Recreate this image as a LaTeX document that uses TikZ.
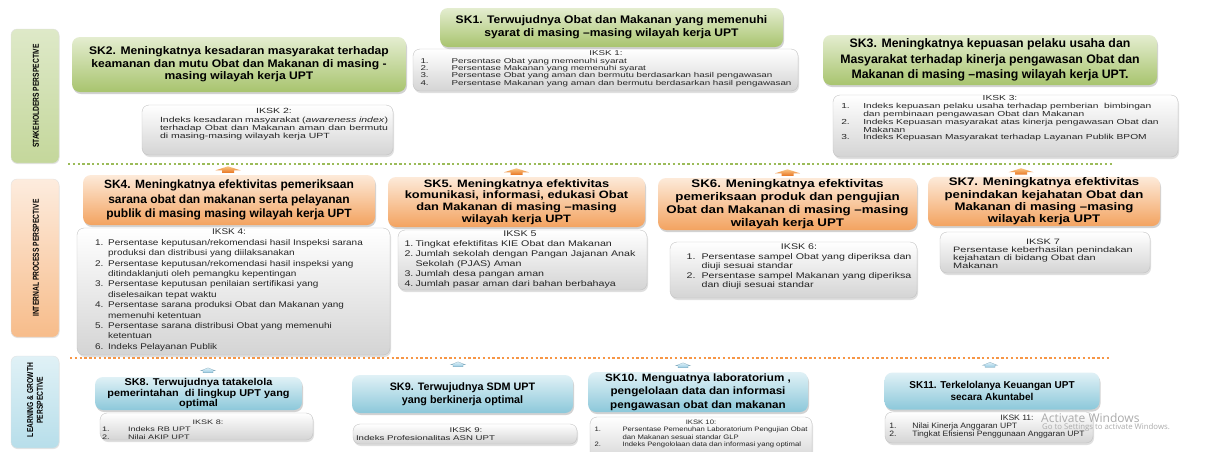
\documentclass[tikz,border=0pt]{standalone}
\usepackage{fontspec}
\setmainfont{Liberation Sans}
\newfontfamily\fxA{Liberation Sans}
\newfontfamily\fxB{Liberation Sans}[FakeStretch=1.1]
\newfontfamily\fxC{Liberation Sans}[FakeStretch=1.2]
\newfontfamily\fxD{Liberation Sans}[FakeStretch=1.3]
\newfontfamily\fxE{Liberation Sans}[FakeStretch=1.4]
\newfontfamily\fxN{Liberation Sans}[FakeStretch=0.78]
\newfontfamily\winf{Open Sans}
\usetikzlibrary{shadows,calc}
\definecolor{gT}{RGB}{228,237,208}
\definecolor{gB}{RGB}{168,196,110}
\definecolor{oT}{RGB}{253,234,217}
\definecolor{oB}{RGB}{243,163,96}
\definecolor{bT}{RGB}{224,241,246}
\definecolor{bB}{RGB}{140,200,218}
\definecolor{kB}{RGB}{212,212,212}
\definecolor{kD}{RGB}{195,195,195}
\definecolor{bgT}{RGB}{222,233,200}
\definecolor{bgB}{RGB}{196,215,155}
\definecolor{boT}{RGB}{253,236,222}
\definecolor{boB}{RGB}{247,188,138}
\definecolor{bbT}{RGB}{224,241,246}
\definecolor{bbB}{RGB}{183,222,234}
\definecolor{sepG}{RGB}{155,187,89}
\definecolor{sepO}{RGB}{247,150,70}
\definecolor{arO1}{RGB}{250,196,130}
\definecolor{arO2}{RGB}{232,118,36}
\definecolor{arB1}{RGB}{222,240,248}
\definecolor{arB2}{RGB}{150,202,226}
\newcommand\fsz[2]{\fontsize{#1}{#2}\selectfont}
\newcommand\ikh[1]{\multicolumn{2}{c}{#1}\\}
\begin{document}
\begin{tikzpicture}[x=1pt,y=-1pt,
  skbox/.style={rounded corners=8pt, align=center, inner sep=1pt,
    drop shadow={opacity=0.35,shadow xshift=1pt,shadow yshift=-2pt}},
  skg/.style={skbox, top color=gT, bottom color=gB},
  sko/.style={skbox, top color=oT, bottom color=oB},
  skb/.style={skbox, top color=bT, bottom color=bB},
  ikbox/.style={rounded corners=7pt, draw=kD, line width=0.4pt, top color=white, bottom color=kB,
    drop shadow={opacity=0.25,shadow xshift=1pt,shadow yshift=-2pt}},
  iktext/.style={inner sep=0pt, text=black!85},
  band/.style={rounded corners=6pt, draw=black!12, line width=0.3pt,
    drop shadow={opacity=0.2,shadow xshift=0.5pt,shadow yshift=-1pt}},
  bandtxt/.style={rotate=90, inner sep=0pt, align=center, font={\fxN\bfseries\fsz{8.6}{9.8}}},
  sepline/.style={line width=2pt, dash pattern=on 2.4pt off 2.4pt},
  wm/.style={inner sep=0pt, text=black!33},
  oup/.pic={\shade[top color=arO1, bottom color=arO2] (-6,0) -- (6,0) -- (6,-2.5) -- (12.5,-2.5) -- (0,-6.5) -- (-12.5,-2.5) -- (-6,-2.5) -- cycle;},
  bup/.pic={\shade[top color=arB1, bottom color=arB2, draw=arB2!80!black, line width=0.2pt] (-5,0) -- (5,0) -- (5,-2) -- (7.5,-2) -- (0,-5) -- (-7.5,-2) -- (-5,-2) -- cycle;}
]
\useasboundingbox (0,0) rectangle (1212,451);
\fill[white] (0,0) rectangle (1212,451);

% perspective bands
\node[band, top color=bgT, bottom color=bgB, minimum width=48, minimum height=134] (bs) at (35,96) {};
\node[bandtxt] (bst) at (36,96) {STAKEHOLDERS PERSPECTIVE};
\node[band, top color=boT, bottom color=boB, minimum width=48, minimum height=158] (bi) at (35,258) {};
\node[bandtxt] (bit) at (36,258) {INTERNAL PROCESS PERSPECTIVE};
\node[band, top color=bbT, bottom color=bbB, minimum width=48, minimum height=92] (bl) at (35,402) {};
\node[bandtxt] (blt) at (35,400) {LEARNING \& GROWTH\\PERSPECTIVE};

% separators
\coordinate (g1) at (68,164); \coordinate (g2) at (1112,164);
\draw[sepline, sepG] (g1) -- (g2);
\coordinate (o1) at (70,358); \coordinate (o2) at (1110,358);
\draw[sepline, sepO] (o1) -- (o2);

% IKSK boxes
\node[ikbox, minimum width=385, minimum height=42] (k1) at (605.5,70) {};
\node[ikbox, minimum width=251, minimum height=50] (k2) at (267.5,130) {};
\node[ikbox, minimum width=345, minimum height=62] (k3) at (1005.5,126) {};
\node[ikbox, minimum width=313, minimum height=127] (k4) at (233.5,291.5) {};
\node[ikbox, minimum width=249, minimum height=60] (k5) at (522.5,260) {};
\node[ikbox, minimum width=247, minimum height=56] (k6) at (793.5,270) {};
\node[ikbox, minimum width=210, minimum height=41] (k7) at (1045,252.5) {};
\node[ikbox, minimum width=213, minimum height=27] (k8) at (206.5,426.5) {};
\node[ikbox, minimum width=224, minimum height=20] (k9) at (465,434) {};
\node[ikbox, minimum width=222, minimum height=46] (k10) at (701,440) {};
\node[ikbox, minimum width=208, minimum height=31] (k11) at (989,427.5) {};

% SK boxes
\node[skg, minimum width=343, minimum height=39, font={\fxB\bfseries\fsz{11}{13}}] (sk1) at (611.5,27.5)
  {SK1. Terwujudnya Obat dan Makanan yang memenuhi\\syarat di masing –masing wilayah kerja UPT};
\node[skg, minimum width=334, minimum height=55, font={\fxB\bfseries\fsz{11}{12.5}}] (sk2) at (239,64.5)
  {SK2. Meningkatnya kesadaran masyarakat terhadap\\keamanan dan mutu Obat dan Makanan di masing -\\masing wilayah kerja UPT};
\node[skg, minimum width=334, minimum height=50, font={\fxA\bfseries\fsz{12.3}{15.5}}] (sk3) at (990,60)
  {SK3. Meningkatnya kepuasan pelaku usaha dan\\Masyarakat terhadap kinerja pengawasan Obat dan\\Makanan di masing –masing wilayah kerja UPT.};
\node[sko, minimum width=292, minimum height=50, font={\fxA\bfseries\fsz{12}{14.5}}] (sk4) at (229,200)
  {SK4. Meningkatnya efektivitas pemeriksaan\\sarana obat dan makanan serta pelayanan\\publik di masing masing wilayah kerja UPT};
\node[sko, minimum width=257, minimum height=50, font={\fxC\bfseries\fsz{10.7}{11.7}}] (sk5) at (516.5,202)
  {SK5. Meningkatnya efektivitas\\komunikasi, informasi, edukasi Obat\\dan Makanan di masing –masing\\wilayah kerja UPT};
\node[sko, minimum width=259, minimum height=52, font={\fxC\bfseries\fsz{11.1}{12.8}}] (sk6) at (787.5,204)
  {SK6. Meningkatnya efektivitas\\pemeriksaan produk dan pengujian\\Obat dan Makanan di masing –masing\\wilayah kerja UPT};
\node[sko, minimum width=232, minimum height=47, font={\fxC\bfseries\fsz{11}{12.3}}] (sk7) at (1044,201.5)
  {SK7. Meningkatnya efektivitas\\penindakan kejahatan Obat dan\\Makanan di masing –masing\\wilayah kerja UPT};
\node[skb, minimum width=207, minimum height=33, font={\fxB\bfseries\fsz{9.9}{10.5}}] (sk8) at (198.5,393.5)
  {SK8. Terwujudnya tatakelola\\pemerintahan\ \ di lingkup UPT yang\\optimal};
\node[skb, minimum width=221, minimum height=38, font={\fxA\bfseries\fsz{10.8}{13}}] (sk9) at (462.5,394)
  {SK9. Terwujudnya SDM UPT\\yang berkinerja optimal};
\node[skb, minimum width=220, minimum height=40, font={\fxB\bfseries\fsz{10.6}{13.6}}] (sk10) at (698,392)
  {SK10. Menguatnya laboratorium ,\\pengelolaan data dan informasi\\pengawasan obat dan makanan};
\node[skb, minimum width=215, minimum height=37, font={\fxA\bfseries\fsz{10}{12.7}}] (sk11) at (992,391)
  {SK11. Terkelolanya Keuangan UPT\\secara Akuntabel};

% up arrows
\pic at ($(sk4.north)+(-1,-2)$) {oup};
\pic at ($(sk5.north)+(0,-2)$) {oup};
\pic at ($(sk6.north)+(0,-2)$) {oup};
\pic at ($(sk7.north)+(-23,-2)$) {oup};
\pic at ($(sk8.north)+(9.5,-4)$) {bup};
\pic at ($(sk9.north)+(-4.5,-8)$) {bup};
\pic at ($(sk10.north)+(-15,-4)$) {bup};
\pic at ($(sk11.north)+(-2,-5)$) {bup};

% IKSK texts
\node[iktext, font={\fxE\fsz{7}{7.4}}] (k1t) at (606,69) {\begin{tabular}{@{}p{31pt}@{}l@{}}
\ikh{IKSK 1:}
1.&Persentase Obat yang memenuhi syarat\\
2.&Persentase Makanan yang memenuhi syarat\\
3.&Persentase Obat yang aman dan bermutu berdasarkan hasil pengawasan\\
4.&Persentase Makanan yang aman dan bermutu berdasarkan hasil pengawasan
\end{tabular}};
\node[iktext, font={\fxE\fsz{7.5}{8.3}}] (k2t) at (274,124.5) {\begin{tabular}{@{}l@{}}
\multicolumn{1}{c}{IKSK 2:}\\
\makebox[228pt][s]{Indeks kesadaran masyarakat (\textit{awareness index})}\\
\makebox[228pt][s]{terhadap Obat dan Makanan aman dan bermutu}\\
di masing-masing wilayah kerja UPT
\end{tabular}};
\node[iktext, font={\fxE\fsz{7.3}{7.8}}] (k3t) at (1000,118.8) {\begin{tabular}{@{}p{22pt}@{}l@{}}
\ikh{IKSK 3:}
1.&Indeks kepuasan pelaku usaha terhadap pemberian\ \ bimbingan\\
&dan pembinaan pengawasan Obat dan Makanan\\
2.&Indeks Kepuasan masyarakat atas kinerja pengawasan Obat dan\\
&Makanan\\
3.&Indeks Kepuasan Masyarakat terhadap Layanan Publik BPOM
\end{tabular}};
\node[iktext, font={\fxC\fsz{8.3}{10.4}}] (k4t) at (229,290) {\begin{tabular}{@{}p{13pt}@{}l@{}}
\ikh{IKSK 4:}
1.&Persentase keputusan/rekomendasi hasil Inspeksi sarana\\
&produksi dan distribusi yang diilaksanakan\\
2.&Persentase keputusan/rekomendasi hasil inspeksi yang\\
&ditindaklanjuti oleh pemangku kepentingan\\
3.&Persentase keputusan penilaian sertifikasi yang\\
&diselesaikan tepat waktu\\
4.&Persentase sarana produksi Obat dan Makanan yang\\
&memenuhi ketentuan\\
5.&Persentase sarana distribusi Obat yang memenuhi\\
&ketentuan\\
6.&Indeks Pelayanan Publik
\end{tabular}};
\node[iktext, font={\fxD\fsz{8.2}{10}}] (k5t) at (520,259) {\begin{tabular}{@{}p{11pt}@{}l@{}}
\ikh{IKSK 5}
1.&Tingkat efektifitas KIE Obat dan Makanan\\
2.&Jumlah sekolah dengan Pangan Jajanan Anak\\
&Sekolah (PJAS) Aman\\
3.&Jumlah desa pangan aman\\
4.&Jumlah pasar aman dari bahan berbahaya
\end{tabular}};
\node[iktext, font={\fxD\fsz{8.2}{9.5}}] (k6t) at (799,267) {\begin{tabular}{@{}p{15pt}@{}l@{}}
\ikh{IKSK 6:}
1.&Persentase sampel Obat yang diperiksa dan\\
&diuji sesuai standar\\
2.&Persentase sampel Makanan yang diperiksa\\
&dan diuji sesuai standar
\end{tabular}};
\node[iktext, font={\fxE\fsz{7.8}{8}}] (k7t) at (1043,255.3) {\begin{tabular}{@{}l@{}}
\multicolumn{1}{c}{IKSK 7}\\
Persentase keberhasilan penindakan\\
kejahatan di bidang Obat dan\\
Makanan
\end{tabular}};
\node[iktext, font={\fxE\fsz{6.5}{7.2}}] (k8t) at (208,430.5) {\begin{tabular}{@{}p{26pt}@{}p{186pt}@{}}
\ikh{IKSK 8:}
1.&Indeks RB UPT\\
2.&Nilai AKIP UPT
\end{tabular}};
\node[iktext, font={\fxE\fsz{6.9}{8}}] (k9t) at (466,435) {\begin{tabular}{@{}p{220pt}@{}}
\multicolumn{1}{c}{IKSK 9:}\\
Indeks Profesionalitas ASN UPT
\end{tabular}};
\node[iktext, font={\fxC\fsz{6.4}{7.5}}] (k10t) at (701,434) {\begin{tabular}{@{}p{28pt}@{}l@{}}
\ikh{IKSK 10:}
1.&Persentase Pemenuhan Laboratorium Pengujian Obat\\
&dan Makanan sesuai standar GLP\\
2.&Indeks Pengololaan data dan informasi yang optimal
\end{tabular}};
\node[iktext, font={\fxB\fsz{7.8}{7.6}}] (k11t) at (987,426.5) {\begin{tabular}{@{}p{23pt}@{}l@{}}
\multicolumn{2}{c}{\hspace*{60pt}IKSK 11:}\\
1.&Nilai Kinerja Anggaran UPT\\
2.&Tingkat Efisiensi Penggunaan Anggaran UPT
\end{tabular}};

% watermark
\node[wm, anchor=west, font={\winf\fsz{12}{12}}] (wm1) at (1041,418) {Activate Windows};
\node[wm, anchor=west, font={\winf\fsz{7.8}{8}}] (wm2) at (1042,427.5) {Go to Settings to activate Windows.};
\end{tikzpicture}
\end{document}
